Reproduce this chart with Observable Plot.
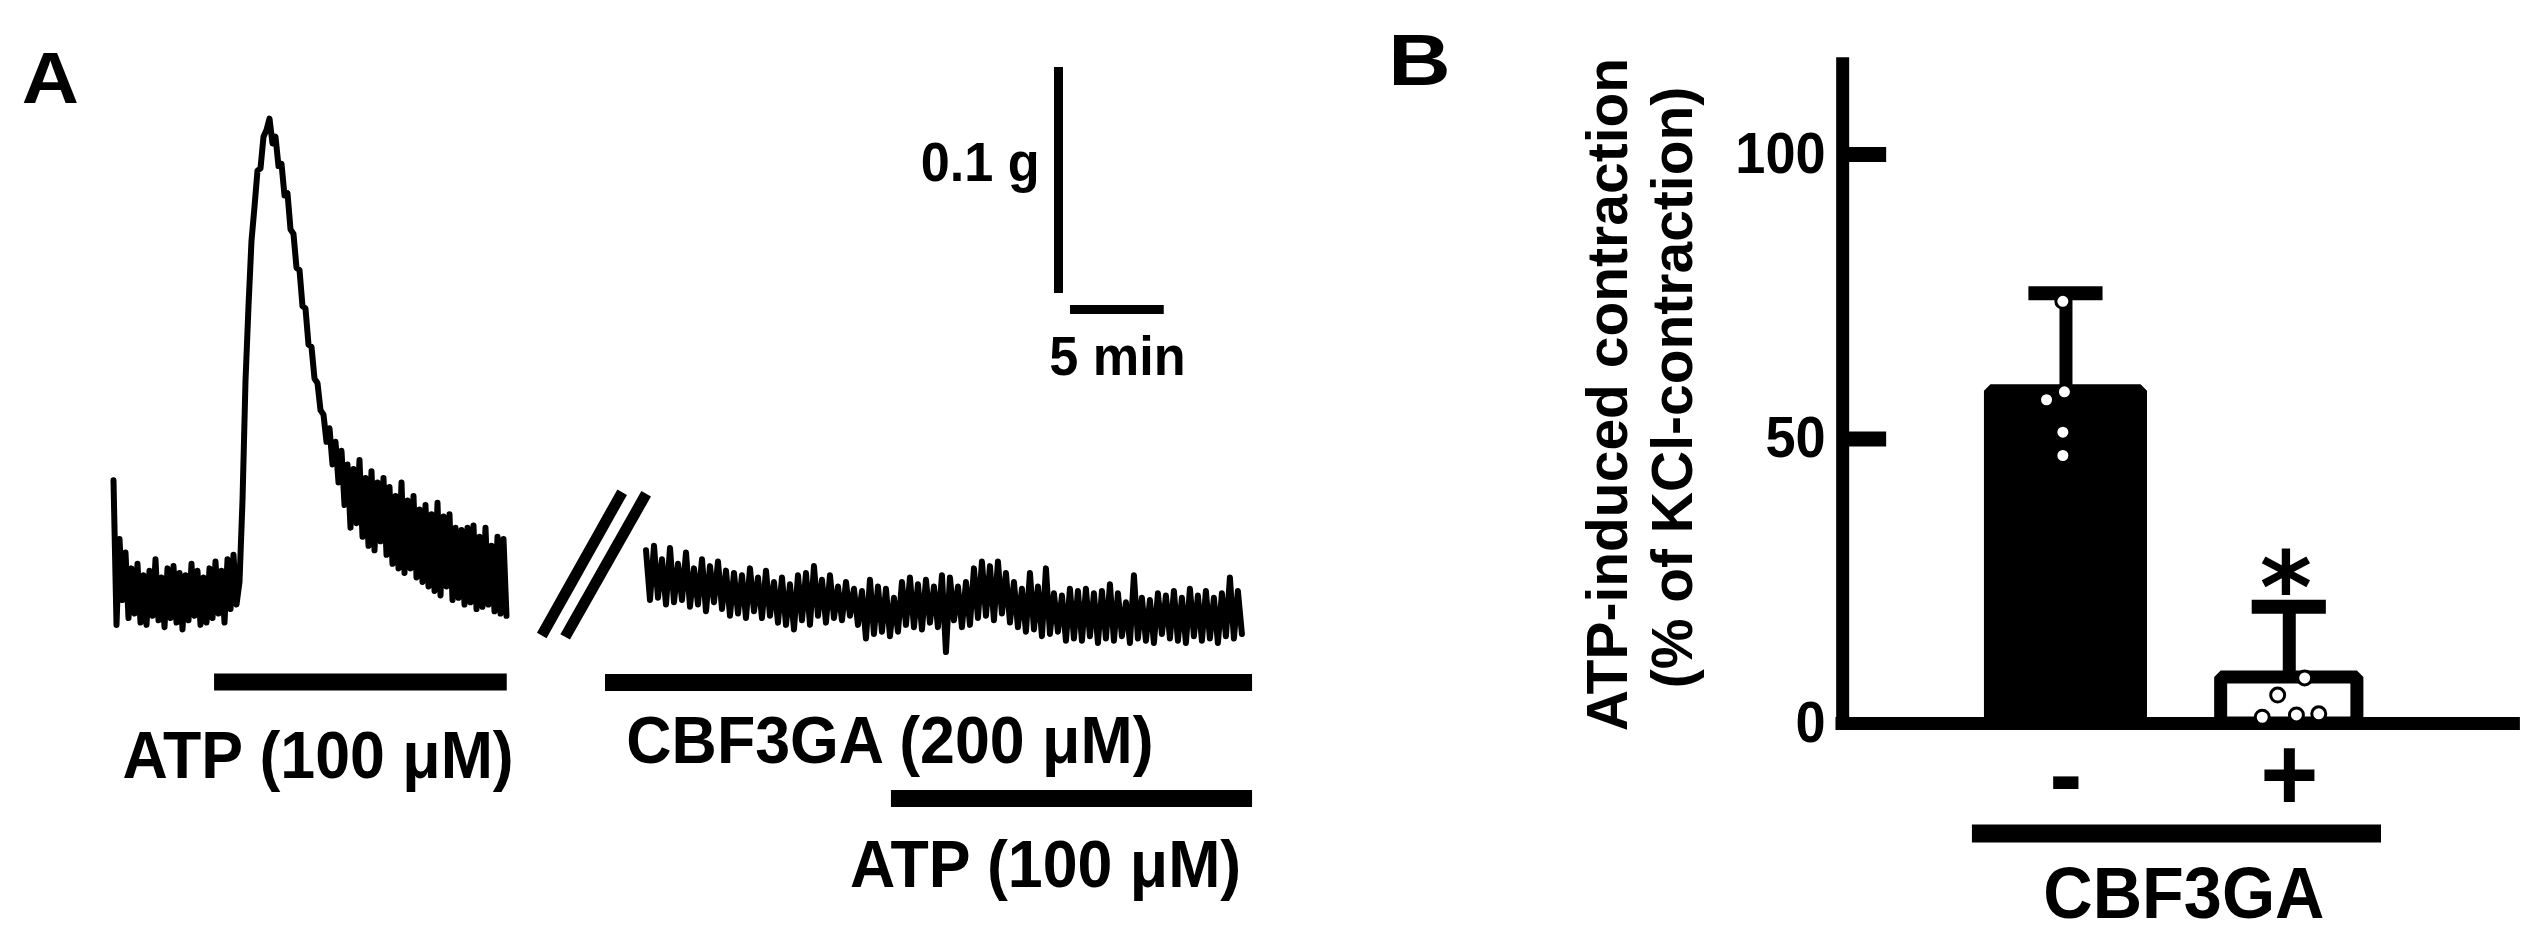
<!DOCTYPE html>
<html>
<head>
<meta charset="utf-8">
<script src="https://cdn.jsdelivr.net/npm/d3@7"></script>
<script src="https://cdn.jsdelivr.net/npm/@observablehq/plot@0.6"></script>
<style>
  html, body { margin: 0; padding: 0; background: #fff; }
  #fig { display: flex; width: 2542px; height: 942px; background: #fff; }
</style>
</head>
<body>
<div id="fig"></div>
<script>
const FONT = '"Liberation Sans", Arial, Helvetica, sans-serif';

// ---------------- Panel A data (tension change in mg, time in min) ----------------
const dt1 = 0.16;            // sampling interval of trace 1 (min)
const trace1 = [
  51, -13, 25, -2, 19,
  -10, 12, -8, 14, -12, 9, -13, 11, -9, 16, -11, 8, -14, 12, -10, 13, -12, 10, -15, 9,
  -11, 14, -9, 11, -13, 8, -12, 12, -10, 15, -8, 11, -12, 16, -6, 18, -4,
  6, 42, 95, 128, 157, 172, 188, 189, 203, 206, 211, 200, 203, 190, 191, 177, 178, 162,
  160, 145, 144, 128, 127, 111, 110, 96, 94, 82, 80, 68,
  74, 58, 68, 50, 64, 40, 58, 30, 56, 32,
  60, 26, 52, 22, 55, 20, 50, 24, 52, 18,
  48, 14, 44, 12, 50, 10, 42, 12, 44, 8,
  38, 6, 40, 4, 36, 2, 41, 0, 35, 4,
  36, -2, 30, -1, 29, -4, 30, -3, 31, -6,
  26, -5, 30, -4, 22, -7, 26, -8, 25, -9
];
const t2Start = 28.4;        // time shown at start of trace 2 (after break)
const dt2 = 0.2133;          // sampling interval of trace 2 (min)
const trace2 = [
  20, -2, 22, -1, 16, -4, 21, -3, 14, -2, 19, -5, 12, -4, 16, -7, 13, -3, 15, -6,
  11, -9, 10, -8, 9, -10, 12, -7, 8, -10, 11, -9, 6, -12, 8, -13, 5, -15, 9, -11,
  10, -13, 13, -9, 7, -12, 9, -10, 4, -11, 6, -9, 3, -13, 2, -19, 7, -17, 4, -16,
  3, -18, -1, -16, 6, -13, 8, -14, 5, -15, 7, -12, 4, -14, 9, -25, 8, -11, 4, -14,
  6, -13, 12, -10, 15, -9, 13, -11, 15, -8, 10, -12, 6, -14, 3, -16, 10, -15, 4, -18,
  12, -17, 1, -16, 0, -20, 3, -19, 2, -20, 3, -18, 1, -21, 2, -19, 5, -20, 1, -18,
  -3, -21, 9, -19, -1, -20, -2, -21, 1, -17, 0, -19, 2, -20, -1, -21, 3, -18, 0, -20,
  2, -19, -1, -21, 1, -18, 8, -19, 2, -17
];
const drugLabels = ["ATP (100 μM)", "CBF3GA (200 μM)", "ATP (100 μM)"];
const drugStart = [5.39, 26.24, 41.49];   // min
const drugEnd = [21.0, 60.75, 60.75];     // min
const scaleTension = 100;   // mg  (0.1 g)
const scaleTime = 5;        // min
const scaleLabels = ["0.1 g", "5 min"];

// ---------------- Panel B data ----------------
const conditions = ["-", "+"];
const meanContraction = [58.4, 8.1];
const sdContraction = [17.2, 12.4];
const pointsMinus = [74.2, 58.3, 56.9, 51.2, 47.1];
const pointsPlus = [8.0, 5.0, 1.1, 1.5, 1.7];
const jitterMinus = [-0.014, -0.007, -0.087, -0.014, -0.014];
const jitterPlus = [0.069, -0.052, -0.121, 0.032, 0.132];
const yTicks = [0, 50, 100];
const yTitle = ["ATP-induced contraction", "(% of KCl-contraction)"];
const groupLabel = "CBF3GA";

// ---------------- Panel A ----------------
const t1 = trace1.map((v, i) => ({t: i * dt1, v}));
const t2 = trace2.map((v, i) => ({t: t2Start + i * dt2, v}));
const drugBarY = [-38.3, -38.5, -89.8];
const drugLabelX = [10.91, 41.41, 49.71];
const drugLabelY = [-80.97, -74.3, -128.8];
const drugs = drugLabels.map((label, i) => ({
  label, start: drugStart[i], end: drugEnd[i], y: drugBarY[i], lx: drugLabelX[i], ly: drugLabelY[i]
}));
const breakMarks = [
  {x1: 22.84, y1: -17.7, x2: 27.13, y2: 45.7},
  {x1: 24.09, y1: -18.3, x2: 28.41, y2: 45.0}
];
const sbT = 50.4, sbV = 133.6;     // scale-bar vertical position
const sbHT = 51.04, sbHV = 126.5;  // scale-bar horizontal position

const panelA = Plot.plot({
  width: 1300, height: 942, margin: 0,
  x: {domain: [-6.0267, 63.3067], axis: null},
  y: {domain: [-153.54, 263.27], axis: null},
  style: {background: "white", fontFamily: FONT, color: "black"},
  marks: [
    Plot.line(t1, {x: "t", y: "v", stroke: "black", strokeWidth: 6, strokeLinejoin: "round"}),
    Plot.line(t2, {x: "t", y: "v", stroke: "black", strokeWidth: 6, strokeLinejoin: "round"}),
    Plot.link(breakMarks, {x1: "x1", y1: "y1", x2: "x2", y2: "y2", stroke: "black", strokeWidth: 11, strokeLinecap: "butt"}),
    Plot.ruleY(drugs, {y: "y", x1: "start", x2: "end", stroke: "black", strokeWidth: 17}),
    Plot.text(drugs, {x: "lx", y: "ly", text: "label", textAnchor: "middle", lineAnchor: "bottom",
      fontSize: 66, fontWeight: "bold", fill: "black"}),
    Plot.ruleX([sbT], {x: d => d, y1: () => sbV, y2: () => sbV + scaleTension, stroke: "black", strokeWidth: 9}),
    Plot.ruleY([sbHV], {y: d => d, x1: () => sbHT, x2: () => sbHT + scaleTime, stroke: "black", strokeWidth: 9}),
    Plot.text([scaleLabels[0]], {x: () => sbT - 1.0, y: () => sbV + scaleTension / 2, text: d => d,
      textAnchor: "end", lineAnchor: "bottom", fontSize: 55, fontWeight: "bold", fill: "black"}),
    Plot.text([scaleLabels[1]], {x: () => sbHT + scaleTime / 2, y: () => 97.35, text: d => d,
      textAnchor: "middle", lineAnchor: "bottom", fontSize: 55, fontWeight: "bold", fill: "black"}),
    Plot.text(["A"], {x: () => -3.37, y: () => 218.1, text: d => d, textAnchor: "middle", lineAnchor: "bottom",
      fontSize: 72, fontWeight: "bold", fill: "black"})
  ]
});

// ---------------- Panel B ----------------
const bars = conditions.map((c, i) => ({i, c, mean: meanContraction[i], sd: sdContraction[i]}));
const barHalf = [0.336, 0.305];
const pts = [
  ...pointsMinus.map((v, k) => ({i: 0, v, j: jitterMinus[k]})),
  ...pointsPlus.map((v, k) => ({i: 1, v, j: jitterPlus[k]}))
];
const axisX = -1;

const panelB = Plot.plot({
  width: 1242, height: 942, margin: 0,
  x: {domain: [-3.428, 2.134], axis: null},
  y: {domain: [-38.49, 127.07], axis: null},
  style: {background: "white", fontFamily: FONT, color: "black"},
  marks: [
    Plot.rect(bars.filter(d => d.i === 0), {x1: d => d.i - barHalf[d.i], x2: d => d.i + barHalf[d.i],
      y1: () => 0, y2: "mean", fill: "black", stroke: "black", strokeWidth: 13, strokeLinejoin: "bevel"}),
    Plot.rect(bars.filter(d => d.i === 1), {x1: d => d.i - barHalf[d.i], x2: d => d.i + barHalf[d.i],
      y1: () => 0, y2: "mean", fill: "white", stroke: "black", strokeWidth: 13, strokeLinejoin: "bevel"}),
    Plot.ruleX(bars, {x: "i", y1: "mean", y2: d => d.mean + d.sd, stroke: "black", strokeWidth: 13}),
    Plot.ruleY(bars, {y: d => d.mean + d.sd, x1: d => d.i - 0.166, x2: d => d.i + 0.166, stroke: "black", strokeWidth: 14}),
    Plot.ruleX([axisX], {x: d => d, y1: () => -1.15, y2: () => 117, stroke: "black", strokeWidth: 13}),
    Plot.ruleY([0], {y: d => d, x1: () => -1.03, x2: () => 2.035, stroke: "black", strokeWidth: 13}),
    Plot.ruleY(yTicks.filter(d => d > 0), {y: d => d, x1: () => axisX, x2: () => -0.803, stroke: "black", strokeWidth: 15}),
    Plot.dot(pts, {x: d => d.i + d.j, y: "v", r: 7, fill: "white", stroke: "black", strokeWidth: 3}),
    Plot.text(yTicks, {x: () => axisX, y: d => d, text: d => String(d), dx: -17, textAnchor: "end", lineAnchor: "middle",
      fontSize: 57, fontWeight: "bold", fill: "black"}),
    Plot.text([yTitle[0]], {x: () => -1.964, y: () => 57.8, text: d => d, rotate: -90, textAnchor: "middle",
      lineAnchor: "bottom", fontSize: 57, fontWeight: "bold", fill: "black"}),
    Plot.text([yTitle[1]], {x: () => -1.676, y: () => 59.05, text: d => d, rotate: -90, textAnchor: "middle",
      lineAnchor: "bottom", fontSize: 57, fontWeight: "bold", fill: "black"}),
    Plot.text(bars, {x: "i", y: () => -15.2, text: "c", textAnchor: "middle", lineAnchor: "bottom",
      fontSize: 105, fontWeight: "bold", fill: "black"}),
    Plot.ruleY([-19.33], {y: d => d, x1: () => -0.419, x2: () => 1.413, stroke: "black", strokeWidth: 18}),
    Plot.text([groupLabel], {x: () => 0.528, y: () => -34.27, text: d => d, textAnchor: "middle", lineAnchor: "bottom",
      fontSize: 72, fontWeight: "bold", fill: "black"}),
    Plot.text(["*"], {x: () => 0.985, y: () => 17.6, text: d => d, textAnchor: "middle", lineAnchor: "bottom",
      fontSize: 100, fontWeight: "bold", fontFamily: '"DejaVu Sans", sans-serif', fill: "black"}),
    Plot.text(["B"], {x: () => -2.895, y: () => 112.3, text: d => d, textAnchor: "middle", lineAnchor: "bottom",
      fontSize: 72, fontWeight: "bold", fill: "black"})
  ]
});

// slight horizontal condensation of the lettering, as in the original figure
function adjustText(svg) {
  svg.querySelectorAll("text").forEach(t => {
    const tr = t.getAttribute("transform");
    if (!tr || !tr.includes("translate") || tr.includes("rotate")) return;
    const s = t.textContent.trim();
    if (s === "*") return;
    const k = s === "A" ? 1.1 : s === "B" ? 1.2 : 0.95;
    t.setAttribute("transform", tr + ` scale(${k},1)`);
  });
}
adjustText(panelA);
adjustText(panelB);

const fig = document.getElementById("fig");
fig.appendChild(panelA);
fig.appendChild(panelB);
</script>
</body>
</html>
